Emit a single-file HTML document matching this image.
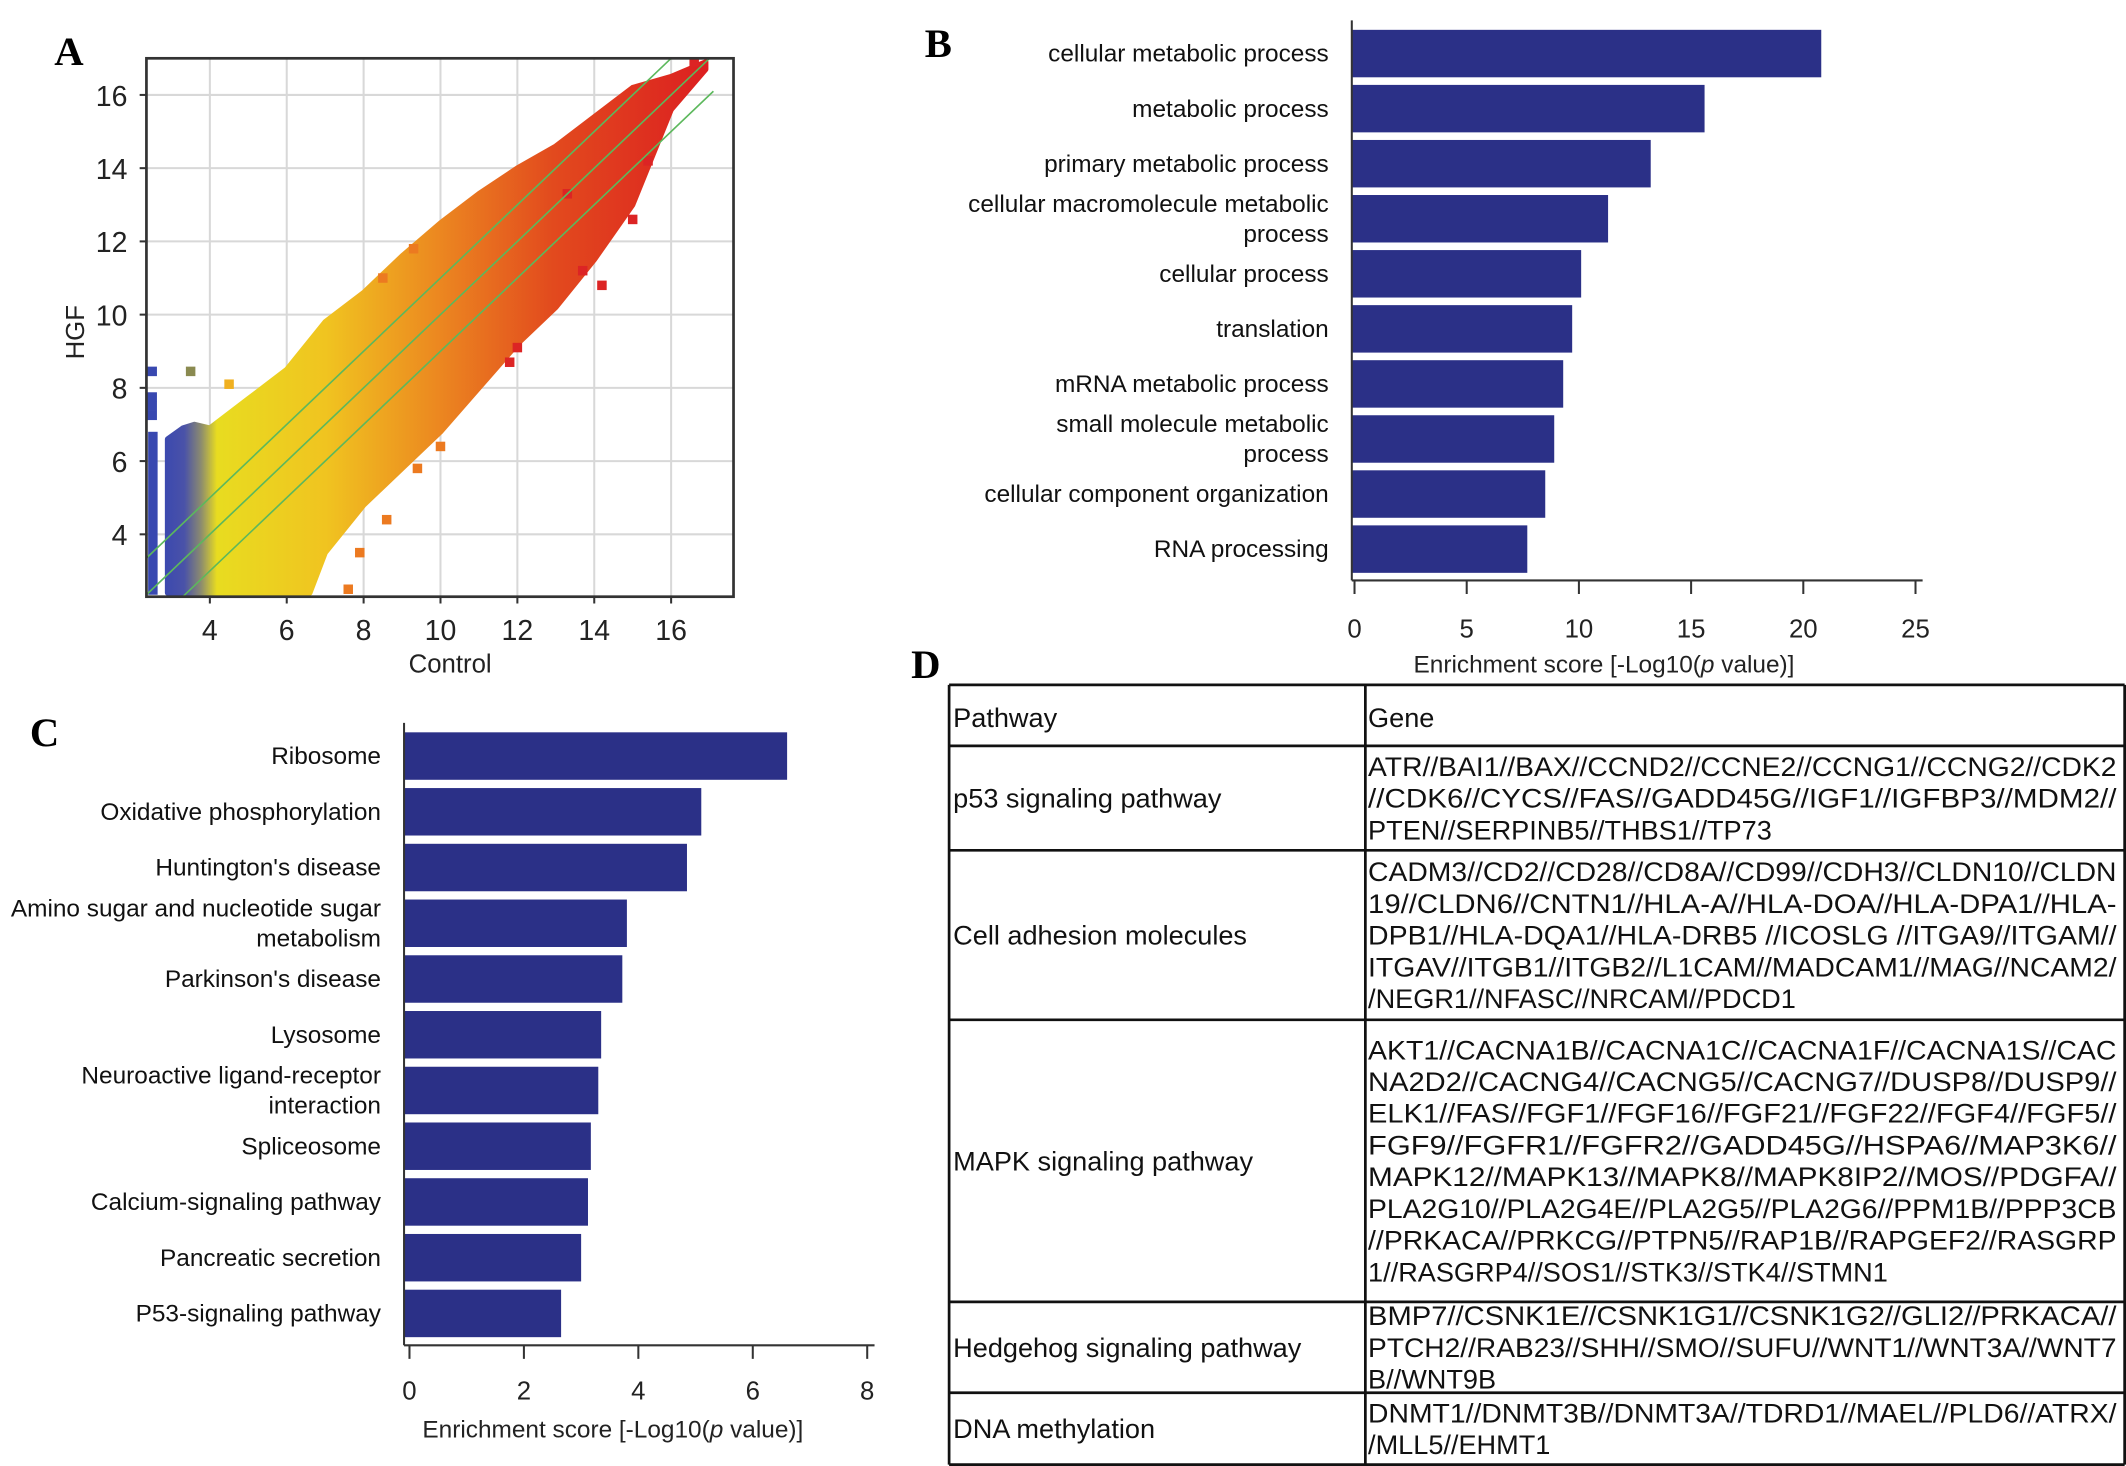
<!DOCTYPE html>
<html><head><meta charset="utf-8">
<style>
html,body{margin:0;padding:0;background:#fff;}
svg{display:block;font-family:"Liberation Sans",Arial,sans-serif;}
.lbl{font-family:"Liberation Serif",serif;font-weight:bold;font-size:30px;}
</style></head>
<body>
<svg id="fig" width="2126" height="1466" viewBox="0 0 1568 1081" preserveAspectRatio="none" xmlns="http://www.w3.org/2000/svg">
<defs>
<linearGradient id="cloudGrad" gradientUnits="userSpaceOnUse" x1="120" y1="0" x2="520" y2="0">
<stop offset="0" stop-color="#3a48b0"/>
<stop offset="0.04" stop-color="#4a52a8"/>
<stop offset="0.07" stop-color="#8a8a70"/>
<stop offset="0.1" stop-color="#e8dc20"/>
<stop offset="0.3" stop-color="#f0c420"/>
<stop offset="0.5" stop-color="#ec8a20"/>
<stop offset="0.72" stop-color="#e24a1e"/>
<stop offset="1" stop-color="#dc2020"/>
</linearGradient>
</defs>
<text class="lbl" x="40" y="48">A</text>
<text class="lbl" x="682" y="42">B</text>
<text class="lbl" x="22" y="550">C</text>
<text class="lbl" x="672" y="500">D</text>
<g id="panelA"></g>
<g id="panelB"></g>
<g id="panelC"></g>
<g id="panelD"></g>
</svg>
<script>
// ---------- Panel A data ----------
const aTicks = [4, 6, 8, 10, 12, 14, 16];
const cloudUpperX = [2.9, 3.3, 3.6, 4, 5, 6, 7, 8, 9, 10, 11, 12, 13, 14, 15, 16, 16.9];
const cloudUpperY = [6.6, 6.9, 7.0, 6.9, 7.7, 8.5, 9.8, 10.6, 11.6, 12.5, 13.3, 14.0, 14.6, 15.4, 16.2, 16.5, 16.9];
const cloudLowerX = [16.9, 16, 15, 14, 13, 12, 11, 10, 9, 8, 7, 6.6, 2.9];
const cloudLowerY = [16.7, 15.6, 13.0, 11.5, 10.2, 9.2, 8.0, 6.8, 5.8, 4.8, 3.5, 2.4, 2.4];
const outlierX = [7.6, 8.6, 7.9, 9.4, 10.0, 14.2, 13.7, 12.0, 11.8, 15.0, 4.5, 8.5, 9.3, 13.3, 15.4, 16.6];
const outlierY = [2.5, 4.4, 3.5, 5.8, 6.4, 10.8, 11.2, 9.1, 8.7, 12.6, 8.1, 11.0, 11.8, 13.3, 14.2, 16.9];
const blueX = [2.5, 2.5, 2.5, 2.5, 3.5];
const blueY = [8.45, 7.75, 7.5, 7.25, 8.45];
const greenOffsets = [-1, 0, 1];

// ---------- Panel B data ----------
const bCats = [["cellular metabolic process"],["metabolic process"],["primary metabolic process"],["cellular macromolecule metabolic","process"],["cellular process"],["translation"],["mRNA metabolic process"],["small molecule metabolic","process"],["cellular component organization"],["RNA processing"]];
const bVals = [20.8, 15.6, 13.2, 11.3, 10.1, 9.7, 9.3, 8.9, 8.5, 7.7];
const bTicks = [0, 5, 10, 15, 20, 25];

// ---------- Panel C data ----------
const cCats = [["Ribosome"],["Oxidative phosphorylation"],["Huntington's disease"],["Amino sugar and nucleotide sugar","metabolism"],["Parkinson's disease"],["Lysosome"],["Neuroactive ligand-receptor","interaction"],["Spliceosome"],["Calcium-signaling pathway"],["Pancreatic secretion"],["P53-signaling pathway"]];
const cVals = [6.6, 5.1, 4.85, 3.8, 3.72, 3.35, 3.3, 3.17, 3.12, 3.0, 2.65];
const cTicks = [0, 2, 4, 6, 8];

// ---------- Panel D data ----------
const dPathways = ["p53 signaling pathway","Cell adhesion molecules","MAPK signaling pathway","Hedgehog signaling pathway","DNA methylation"];
const dGenes = [
 ["ATR//BAI1//BAX//CCND2//CCNE2//CCNG1//CCNG2//CDK2","//CDK6//CYCS//FAS//GADD45G//IGF1//IGFBP3//MDM2//","PTEN//SERPINB5//THBS1//TP73"],
 ["CADM3//CD2//CD28//CD8A//CD99//CDH3//CLDN10//CLDN","19//CLDN6//CNTN1//HLA-A//HLA-DOA//HLA-DPA1//HLA-","DPB1//HLA-DQA1//HLA-DRB5 //ICOSLG //ITGA9//ITGAM//","ITGAV//ITGB1//ITGB2//L1CAM//MADCAM1//MAG//NCAM2/","/NEGR1//NFASC//NRCAM//PDCD1"],
 ["AKT1//CACNA1B//CACNA1C//CACNA1F//CACNA1S//CAC","NA2D2//CACNG4//CACNG5//CACNG7//DUSP8//DUSP9//","ELK1//FAS//FGF1//FGF16//FGF21//FGF22//FGF4//FGF5//","FGF9//FGFR1//FGFR2//GADD45G//HSPA6//MAP3K6//","MAPK12//MAPK13//MAPK8//MAPK8IP2//MOS//PDGFA//","PLA2G10//PLA2G4E//PLA2G5//PLA2G6//PPM1B//PPP3CB","//PRKACA//PRKCG//PTPN5//RAP1B//RAPGEF2//RASGRP","1//RASGRP4//SOS1//STK3//STK4//STMN1"],
 ["BMP7//CSNK1E//CSNK1G1//CSNK1G2//GLI2//PRKACA//","PTCH2//RAB23//SHH//SMO//SUFU//WNT1//WNT3A//WNT7","B//WNT9B"],
 ["DNMT1//DNMT3B//DNMT3A//TDRD1//MAEL//PLD6//ATRX/","/MLL5//EHMT1"]
];

const NS = "http://www.w3.org/2000/svg";
function mk(tag, attrs, parent, text) {
  const e = document.createElementNS(NS, tag);
  for (const k in attrs) e.setAttribute(k, attrs[k]);
  if (text !== undefined) e.textContent = text;
  parent.appendChild(e);
  return e;
}

// ===== Panel A =====
(function(){
  const g = document.getElementById('panelA');
  const L = 108, R = 541, T = 43, B = 440;
  const xA = v => L + (v - 2.35) * 28.35;
  const yA = v => 394 - (v - 4) * 27;
  aTicks.forEach(t => {
    const gx = mk('line', {x1: xA(t), x2: xA(t), y1: T, y2: B, stroke: '#d8d8d8', 'stroke-width': 1.5}, g);
    
    
    const gy = mk('line', {x1: L, x2: R, y1: yA(t), y2: yA(t), stroke: '#d8d8d8', 'stroke-width': 1.5}, g);
    
    
  });
  const bc = mk('rect', {x: xA(2.5) - 3, y: yA(6.8), width: 7, height: yA(2.35) - yA(6.8), fill: '#3848b0'}, g);
  
  
  let pts = [];
  cloudUpperX.forEach((x, i) => pts.push(xA(x) + ',' + yA(cloudUpperY[i])));
  cloudLowerX.forEach((x, i) => pts.push(xA(x) + ',' + yA(cloudLowerY[i])));
  const cl = mk('polygon', {points: pts.join(' '), fill: 'url(#cloudGrad)', stroke: 'url(#cloudGrad)', 'stroke-width': 4, 'stroke-linejoin': 'round'}, g);
  
  
  outlierX.forEach((x, i) => {
    const t = (x - 4) / 10;
    const col = t < 0.3 ? '#f0b020' : (t < 0.7 ? '#ec7a20' : '#dc2424');
    const r = mk('rect', {x: xA(x) - 3.5, y: yA(outlierY[i]) - 3.5, width: 7, height: 7, fill: col}, g);
    
    
  });
  blueX.forEach((x, i) => {
    const r = mk('rect', {x: xA(x) - 3.5, y: yA(blueY[i]) - 3.5, width: 7, height: 7, fill: x < 3 ? '#3848b0' : '#8a8a50'}, g);
    
    
  });
  greenOffsets.forEach(o => {
    let x1 = 2.35, y1 = x1 + o;
    if (y1 < 2.3) { y1 = 2.3; x1 = y1 - o; }
    let x2 = 17.1, y2 = x2 + o;
    if (y2 > 17) { y2 = 17; x2 = y2 - o; }
    const ln = mk('line', {x1: xA(x1), y1: yA(y1), x2: xA(x2), y2: yA(y2), stroke: '#5cb85c', 'stroke-width': 1.2}, g);
    
    
  });
  const fr = mk('rect', {x: L, y: T, width: R - L, height: B - T, fill: 'none', stroke: '#333', 'stroke-width': 2}, g);
  
  
  aTicks.forEach(t => {
    mk('line', {x1: xA(t), x2: xA(t), y1: B, y2: B + 5, stroke: '#333', 'stroke-width': 1.5}, g);
    mk('line', {x1: L - 5, x2: L, y1: yA(t), y2: yA(t), stroke: '#333', 'stroke-width': 1.5}, g);
    const tx = mk('text', {x: xA(t), y: 472, 'font-size': 21, 'text-anchor': 'middle', fill: '#222'}, g, t);
    
    
    const ty = mk('text', {x: 94, y: yA(t) + 8, 'font-size': 21, 'text-anchor': 'end', fill: '#222'}, g, t);
    
    
  });
  const xt = mk('text', {x: 332, y: 496, 'font-size': 19, 'text-anchor': 'middle', fill: '#222'}, g, 'Control');
  
  
  const yt = mk('text', {x: 0, y: 0, 'font-size': 19, 'text-anchor': 'middle', fill: '#222', transform: 'translate(62,245) rotate(-90)'}, g, 'HGF');
  
  
})();

function barChart(gid, cats, vals, ticks, cfg) {
  const g = document.getElementById(gid);
  const xS = v => cfg.x0 + v * cfg.k;
  cats.forEach((lines, i) => {
    const top = cfg.top + i * cfg.pitch;
    const r = mk('rect', {x: cfg.axisX, y: top, width: xS(vals[i]) - cfg.axisX, height: cfg.bh, fill: '#2b3087'}, g);
    
    
    const cy = top + cfg.bh / 2;
    lines.forEach((ln, j) => {
      const yy = lines.length === 1 ? cy + 6 : cy - 5 + (j * 22);
      const t = mk('text', {x: cfg.labelX, y: yy, 'font-size': cfg.fs, 'text-anchor': 'end', fill: '#111'}, g, ln);
      
      
    });
  });
  const ya = mk('line', {x1: cfg.axisX, x2: cfg.axisX, y1: cfg.axTop, y2: cfg.axBot, stroke: '#333', 'stroke-width': 1.5}, g);
  
  
  const xa = mk('line', {x1: cfg.axisX, x2: cfg.axRight, y1: cfg.axBot, y2: cfg.axBot, stroke: '#333', 'stroke-width': 1.5}, g);
  
  
  ticks.forEach(t => {
    mk('line', {x1: xS(t), x2: xS(t), y1: cfg.axBot, y2: cfg.axBot + 10, stroke: '#333', 'stroke-width': 1.5}, g);
    const tl = mk('text', {x: xS(t), y: cfg.tickY, 'font-size': 19, 'text-anchor': 'middle', fill: '#222'}, g, t);
    
    
  });
  const ti = mk('text', {x: cfg.titleX, y: cfg.titleY, 'font-size': 18, 'text-anchor': 'middle', fill: '#222'}, g);
  
  
  mk('tspan', {}, ti, 'Enrichment score [-Log10(');
  mk('tspan', {'font-style': 'italic'}, ti, 'p');
  mk('tspan', {}, ti, ' value)]');
}

barChart('panelB', bCats, bVals, bTicks, {x0: 999, k: 16.55, axisX: 997, top: 22, pitch: 40.6, bh: 35, labelX: 980, fs: 18, axTop: 15, axBot: 428, axRight: 1418, tickY: 470, titleX: 1183, titleY: 496});
barChart('panelC', cCats, cVals, cTicks, {x0: 302, k: 42.2, axisX: 298, top: 540, pitch: 41.1, bh: 35, labelX: 281, fs: 18, axTop: 533, axBot: 992, axRight: 645, tickY: 1032, titleX: 452, titleY: 1060});

(function(){
  const g = document.getElementById('panelD');
  const L = 700, R = 1567, M = 1007;
  const rows = [505, 550, 627, 752, 960, 1027, 1080];
  rows.forEach(y => {
    const l = mk('line', {x1: L, x2: R, y1: y, y2: y, stroke: '#111', 'stroke-width': 2}, g);
    
    
  });
  [L, M, R].forEach(x => {
    const l = mk('line', {x1: x, x2: x, y1: rows[0], y2: rows[6], stroke: '#111', 'stroke-width': 2}, g);
    
    
  });
  const h1 = mk('text', {x: 703, y: 536, 'font-size': 20, fill: '#111'}, g, 'Pathway');
  
  
  const h2 = mk('text', {x: 1009, y: 536, 'font-size': 20, fill: '#111'}, g, 'Gene');
  
  
  dPathways.forEach((p, i) => {
    const top = rows[i + 1], bot = rows[i + 2];
    const mid = (top + bot) / 2;
    const pt = mk('text', {x: 703, y: mid + 7, 'font-size': 20, fill: '#111'}, g, p);
    
    
    const lines = dGenes[i];
    const lh = 23.4;
    const start = mid - (lines.length - 1) * lh / 2 + 7;
    lines.forEach((ln, j) => {
      const attrs = {x: 1009, y: start + j * lh, 'font-size': 20, fill: '#111'};
      if (j < lines.length - 1) { attrs.textLength = 552; attrs.lengthAdjust = 'spacingAndGlyphs'; }
      const t = mk('text', attrs, g, ln);
      
      
    });
  });
})();
</script>
</body></html>
